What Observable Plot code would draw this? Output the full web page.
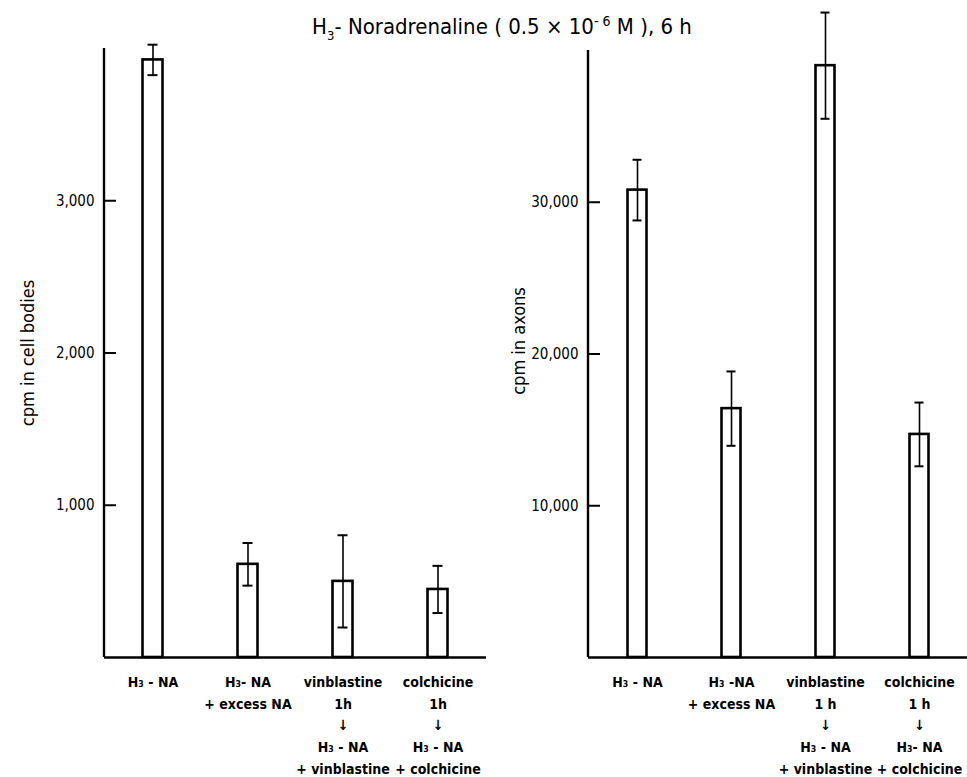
<!DOCTYPE html>
<html><head><meta charset="utf-8">
<script src="https://cdn.jsdelivr.net/npm/d3@7"></script>
<script src="https://cdn.jsdelivr.net/npm/@observablehq/plot@0.6"></script>
<style>
body{margin:0;background:#fff;}
#wrap{position:relative;width:967px;height:777px;font-family:"DejaVu Sans Condensed","Liberation Sans Narrow","DejaVu Sans",sans-serif;font-stretch:condensed;color:#000;}
#title{position:absolute;top:13px;left:502px;transform:translateX(-50%);white-space:nowrap;font-size:22px;}
#title sub{font-size:13px;}
#title sup{font-size:14px;}
#left{position:absolute;left:0;top:0;}
#right{position:absolute;left:495px;top:0;}
</style>
</head><body>
<div id="wrap">
  <div id="left"></div>
  <div id="right"></div>
  <div id="title">H<sub>3</sub>- Noradrenaline ( 0.5 × 10<sup>- 6</sup> M ), 6 h</div>
</div>
<script>
const categories = ["H3-NA", "excess NA", "vinblastine", "colchicine"];
const leftTickLabels = ["H₃ - NA", "H₃- NA\n+ excess NA", "vinblastine\n1h\n↓\nH₃ - NA\n+ vinblastine", "colchicine\n1h\n↓\nH₃ - NA\n+ colchicine"];
const rightTickLabels = ["H₃ - NA", "H₃ -NA\n+ excess NA", "vinblastine\n1 h\n↓\nH₃ - NA\n+ vinblastine", "colchicine\n1 h\n↓\nH₃- NA\n+ colchicine"];
const cellBodiesMean = [3925, 612, 500, 447];
const cellBodiesErr = [100, 140, 303, 155];
const axonsMean = [30800, 16400, 39000, 14700];
const axonsErr = [2000, 2450, 3500, 2100];
const cellTicks = [1000, 2000, 3000];
const axonTicks = [10000, 20000, 30000];
const cellDomain = [0, 4000];
const axonDomain = [0, 40000];

const FONT = '"DejaVu Sans Condensed","Liberation Sans Narrow","DejaVu Sans",sans-serif';

function panel({means, errs, ticks, domain, labels, ylabel, width, marginLeft, marginRight, marginTop, labelDx, labelDy}) {
  const rows = categories.map((c, i) => ({c, v: means[i], lo: means[i] - errs[i], hi: means[i] + errs[i]}));
  const axisLine = (index, scales, values, dims) => d3.create("svg:line")
      .attr("x1", dims.marginLeft).attr("x2", dims.marginLeft)
      .attr("y1", dims.marginTop).attr("y2", dims.height - dims.marginBottom)
      .attr("stroke", "black").attr("stroke-width", 2.4).node();
  return Plot.plot({
    width, height: 777, marginLeft, marginRight, marginTop, marginBottom: 120,
    style: {fontFamily: FONT, fontStretch: "condensed", fontSize: "14px", color: "#000", background: "transparent", overflow: "visible"},
    x: {domain: categories, padding: 0},
    y: {domain},
    marks: [
      Plot.barY(rows, {x: "c", y: "v", fill: "white", stroke: "black", strokeWidth: 2.6, insetLeft: 37.5, insetRight: 37.5}),
      Plot.ruleX(rows, {x: "c", y1: "lo", y2: "hi", stroke: "black", strokeWidth: 1.6}),
      Plot.tickY(rows, {x: "c", y: "lo", stroke: "black", strokeWidth: 2, insetLeft: 42.5, insetRight: 42.5}),
      Plot.tickY(rows, {x: "c", y: "hi", stroke: "black", strokeWidth: 2, insetLeft: 42.5, insetRight: 42.5}),
      Plot.ruleY([0], {stroke: "black", strokeWidth: 2.4}),
      axisLine,
      Plot.axisY({ticks, tickSize: -12, tickPadding: 22, tickFormat: d3.format(","), label: null, fontSize: 15, strokeWidth: 2}),
      Plot.axisX({tickSize: 0, tickPadding: 14, tickFormat: d => labels[categories.indexOf(d)], label: null, lineHeight: 1.55, fontSize: 14, fontWeight: "bold"}),
      Plot.text([ylabel], {text: d => d, frameAnchor: "left", textAnchor: "middle", rotate: -90, dx: labelDx, dy: labelDy, fontSize: 18})
    ]
  });
}

document.getElementById("left").append(panel({
  means: cellBodiesMean, errs: cellBodiesErr, ticks: cellTicks, domain: cellDomain,
  labels: leftTickLabels, ylabel: "cpm in cell bodies",
  width: 495, marginLeft: 104, marginRight: 9, marginTop: 48, labelDx: -76, labelDy: 0
}));
document.getElementById("right").append(panel({
  means: axonsMean, errs: axonsErr, ticks: axonTicks, domain: axonDomain,
  labels: rightTickLabels, ylabel: "cpm in axons",
  width: 472, marginLeft: 93, marginRight: 0, marginTop: 50, labelDx: -69, labelDy: -13
}));
</script>
</body></html>
